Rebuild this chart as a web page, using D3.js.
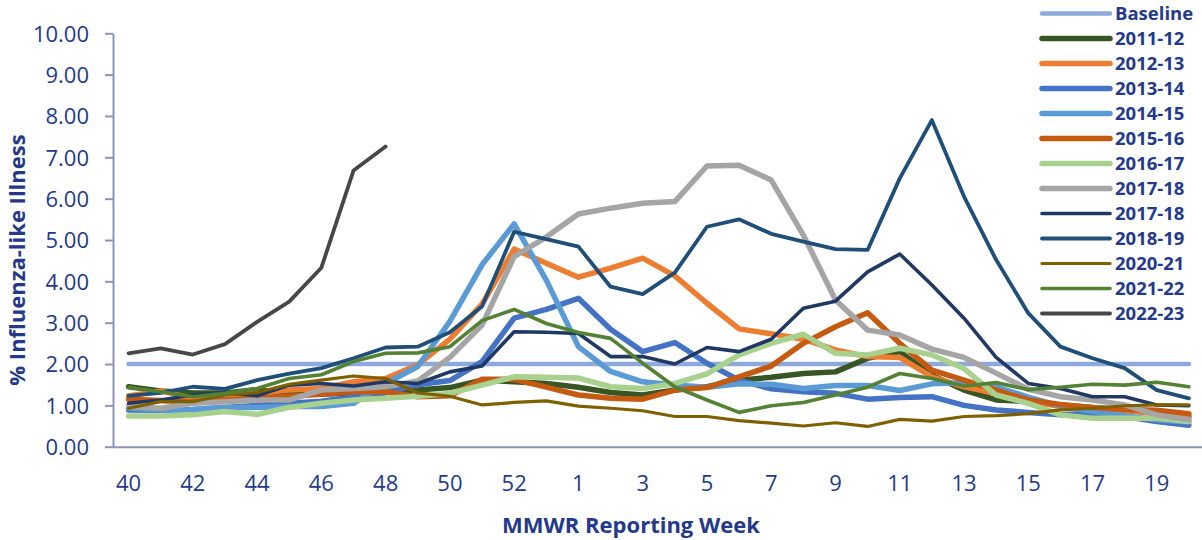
<!DOCTYPE html>
<html>
<head>
<meta charset="utf-8">
<script src="https://cdn.jsdelivr.net/npm/d3@7"></script>
<style>
  html, body { margin: 0; padding: 0; background: #ffffff; }
  svg { display: block; }
  text { font-family: "Open Sans", "Noto Sans", sans-serif; }
</style>
</head>
<body>
<svg id="chart" width="1202" height="540"></svg>
<script>
// ---- Data ----
const weeks = ["40","41","42","43","44","45","46","47","48","49","50","51","52","53",
               "1","2","3","4","5","6","7","8","9","10","11","12","13","14","15","16","17","18","19","20"];
const weekTickLabels = ["40","42","44","46","48","50","52","1","3","5","7","9","11","13","15","17","19"];
const yTickValues = [0,1,2,3,4,5,6,7,8,9,10];

const baseline = [2,2,2,2,2,2,2,2,2,2,2,2,2,2,2,2,2,2,2,2,2,2,2,2,2,2,2,2,2,2,2,2,2,2];
const s2011_12 = [1.45,1.35,1.30,1.30,1.38,1.27,1.27,1.30,1.35,1.37,1.43,1.61,1.57,1.53,1.44,1.31,1.25,1.37,1.45,1.61,1.68,1.77,1.81,2.14,2.30,1.73,1.37,1.13,1.09,1.00,0.95,0.88,0.80,0.72];
const s2012_13 = [1.23,1.35,1.17,1.25,1.29,1.37,1.41,1.57,1.65,1.98,2.60,3.45,4.78,4.44,4.10,4.32,4.56,4.13,3.47,2.85,2.73,2.60,2.34,2.18,2.16,1.69,1.45,1.29,1.09,0.98,0.90,0.88,0.80,0.75];
const s2013_14 = [0.89,0.88,0.90,0.95,1.00,1.05,1.10,1.20,1.30,1.50,1.60,2.06,3.11,3.32,3.59,2.84,2.30,2.52,2.02,1.61,1.40,1.33,1.29,1.15,1.19,1.21,1.00,0.89,0.83,0.77,0.81,0.73,0.61,0.52];
const s2014_15 = [0.93,0.89,0.90,0.95,0.95,0.97,0.97,1.05,1.53,1.94,3.03,4.40,5.39,4.03,2.42,1.82,1.57,1.49,1.44,1.52,1.51,1.41,1.48,1.48,1.36,1.52,1.55,1.45,1.20,0.98,0.85,0.75,0.65,0.60];
const s2015_16 = [1.15,1.12,1.08,1.13,1.17,1.22,1.27,1.33,1.33,1.21,1.23,1.63,1.63,1.44,1.25,1.17,1.15,1.37,1.43,1.69,1.95,2.50,2.90,3.24,2.50,1.85,1.61,1.37,1.13,1.02,0.95,0.90,0.88,0.80];
const s2016_17 = [0.74,0.74,0.77,0.85,0.78,0.95,1.05,1.13,1.17,1.22,1.29,1.49,1.69,1.68,1.66,1.45,1.41,1.53,1.76,2.22,2.50,2.72,2.26,2.22,2.38,2.22,1.89,1.25,1.05,0.77,0.69,0.69,0.69,0.61];
const s2017_18a = [0.97,0.93,1.05,1.09,1.13,1.13,1.37,1.41,1.45,1.59,2.16,2.94,4.60,5.07,5.63,5.77,5.89,5.93,6.79,6.81,6.45,5.12,3.55,2.82,2.70,2.36,2.16,1.78,1.39,1.21,1.13,1.01,0.77,0.65];
const s2017_18b = [1.05,1.13,1.25,1.31,1.23,1.49,1.53,1.47,1.57,1.53,1.81,1.95,2.78,2.77,2.74,2.18,2.18,2.00,2.40,2.30,2.60,3.35,3.52,4.23,4.66,3.91,3.11,2.16,1.53,1.41,1.21,1.21,1.01,0.99];
const s2018_19 = [1.23,1.30,1.45,1.40,1.61,1.77,1.90,2.14,2.40,2.42,2.77,3.39,5.20,5.02,4.84,3.87,3.69,4.21,5.32,5.50,5.15,4.96,4.78,4.76,6.49,7.90,6.05,4.52,3.23,2.42,2.14,1.90,1.37,1.17];
const s2020_21 = [0.93,1.09,1.09,1.25,1.31,1.51,1.61,1.71,1.65,1.30,1.22,1.01,1.07,1.11,0.98,0.93,0.87,0.73,0.73,0.63,0.57,0.50,0.58,0.49,0.66,0.62,0.73,0.75,0.80,0.89,0.93,0.99,1.01,1.01];
const s2021_22 = [1.43,1.33,1.21,1.29,1.41,1.65,1.74,2.06,2.26,2.27,2.42,3.05,3.32,2.98,2.76,2.62,2.02,1.45,1.13,0.83,0.99,1.07,1.25,1.44,1.77,1.65,1.47,1.55,1.38,1.44,1.51,1.49,1.56,1.45];
const s2022_23 = [2.26,2.38,2.23,2.48,3.02,3.51,4.33,6.68,7.26];

const seriesNames = ["Baseline","2011-12","2012-13","2013-14","2014-15","2015-16","2016-17","2017-18","2017-18","2018-19","2020-21","2021-22","2022-23"];
const seriesValues = [baseline,s2011_12,s2012_13,s2013_14,s2014_15,s2015_16,s2016_17,s2017_18a,s2017_18b,s2018_19,s2020_21,s2021_22,s2022_23];
const seriesColors = ["#8EA9DB","#375623","#ED7D31","#4472C4","#5B9BD5","#C55A11","#A9D18E","#A5A5A5","#203864","#1F4E79","#7F6000","#548235","#474747"];
const seriesWidths = [4.5,5.5,5.5,5.5,5.5,5.5,5.5,5.5,3.6,3.8,3.2,3.6,3.8];

// ---- Chart ----
const textColor = "#24398B";
const axisColor = "#8E93B7";
const svg = d3.select("#chart");
svg.append("rect").attr("width",1202).attr("height",540).attr("fill","#ffffff");

const x = d3.scaleBand().domain(weeks).range([112.5, 1205]).padding(0);
const y = d3.scaleLinear().domain([0,10]).range([446.7, 33.3]);
const cx = w => x(w) + x.bandwidth()/2;

// Y axis
const yAxis = svg.append("g").attr("transform","translate(113,0)")
  .call(d3.axisLeft(y).tickValues(yTickValues).tickFormat(d3.format(".2f")).tickSize(8).tickSizeOuter(0).tickPadding(16));
yAxis.select(".domain").attr("stroke", axisColor).attr("stroke-width", 2);
yAxis.selectAll(".tick line").attr("stroke", axisColor).attr("stroke-width", 2);
yAxis.selectAll(".tick text").attr("fill", textColor).style("font-size","22px")
  .attr("font-family", null).attr("dy","0.35em");

// X axis
const xAxis = svg.append("g").attr("transform","translate(0,446.7)")
  .call(d3.axisBottom(x).tickValues(weekTickLabels).tickSize(0).tickSizeOuter(0).tickPadding(28.5));
xAxis.select(".domain").attr("stroke", axisColor).attr("stroke-width", 2);
xAxis.selectAll(".tick text").attr("fill", textColor).style("font-size","22px").attr("font-family", null);

// Axis titles
svg.append("text").attr("x", 631).attr("y", 533).attr("text-anchor","middle")
  .attr("fill", textColor).style("font-size","22px").style("font-weight","700")
  .text("MMWR Reporting Week");
svg.append("text").attr("transform","translate(25,260) rotate(-90)").attr("text-anchor","middle")
  .attr("fill", textColor).style("font-size","22px").style("font-weight","700")
  .text("% Influenza-like Illness");

// Lines
const line = d3.line()
  .defined(d => d.v !== null && d.v !== undefined)
  .x(d => cx(d.w)).y(d => y(d.v));

seriesValues.forEach((vals, i) => {
  const pts = weeks.map((w, j) => ({w: w, v: j < vals.length ? vals[j] : null}));
  svg.append("path").datum(pts)
    .attr("fill","none")
    .attr("stroke", seriesColors[i])
    .attr("stroke-width", seriesWidths[i])
    .attr("stroke-linejoin","round")
    .attr("stroke-linecap","round")
    .attr("d", line);
});

// Legend
const legend = svg.append("g");
seriesNames.forEach((name, i) => {
  const ly = 13.5 + 25.0 * i;
  legend.append("line").attr("x1",1042).attr("x2",1110).attr("y1",ly).attr("y2",ly)
    .attr("stroke", seriesColors[i]).attr("stroke-width", seriesWidths[i]).attr("stroke-linecap","round");
  legend.append("text").attr("x",1115).attr("y",ly).attr("dy","0.36em")
    .attr("fill", textColor).style("font-size","18.5px").style("font-weight","700")
    .text(name);
});
</script>
</body>
</html>
